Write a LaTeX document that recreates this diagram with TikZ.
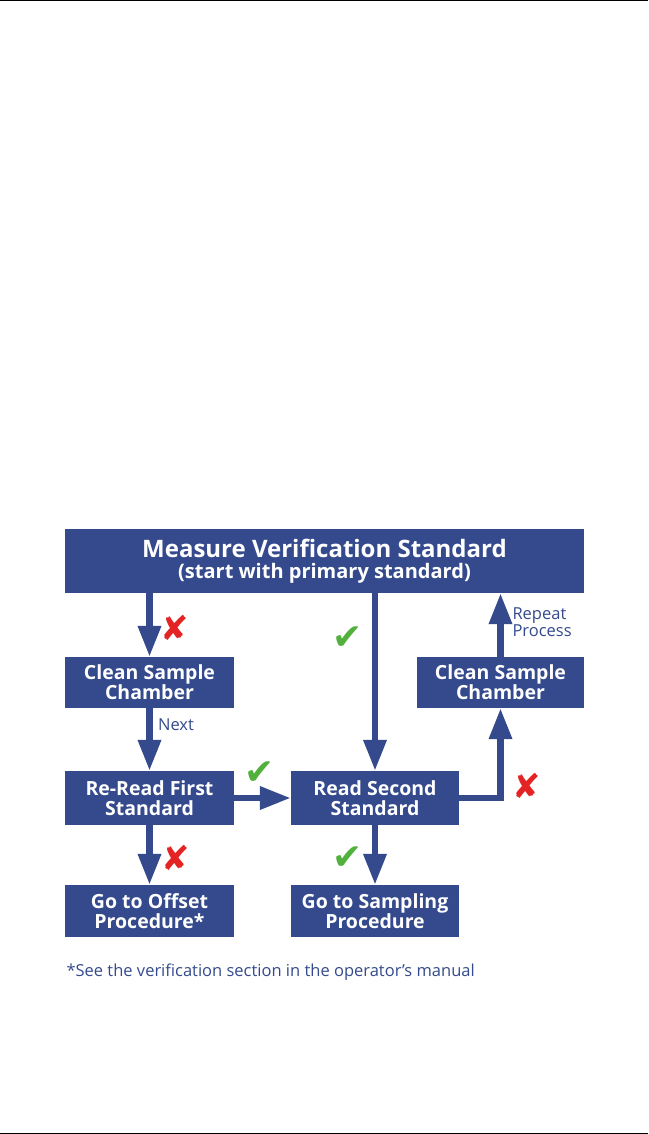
\documentclass[tikz,border=0pt]{standalone}
\usepackage{fontspec}
\setmainfont{Open Sans}
\newfontfamily\symfont{DejaVu Sans}
\usetikzlibrary{arrows.meta}

\definecolor{flowblue}{RGB}{52,74,140}
\definecolor{okgreen}{RGB}{82,176,60}
\definecolor{badred}{RGB}{228,36,36}

\begin{document}
\begin{tikzpicture}[
  x=1pt, y=-1pt,
  box/.style={rectangle, fill=flowblue, text=white, align=center, inner sep=0pt,
    font=\fontsize{19.5}{20}\selectfont\bfseries},
  flow/.style={draw=flowblue, line width=6.5pt,
    -{Triangle[width=22pt,length=31pt]}},
  note/.style={text=flowblue, align=left, font=\fontsize{16.5}{15}\selectfont},
  yes/.style={text=okgreen, font=\symfont\fontsize{36}{36}\selectfont},
  no/.style={text=badred, font=\symfont\fontsize{34}{34}\selectfont}
]
  \useasboundingbox (0,0) rectangle (648,1134);
  \draw[line width=1.5pt] (0,0.75) -- (648,0.75);
  \draw[line width=1.5pt] (0,1133.25) -- (648,1133.25);

  % boxes
  \node[box, minimum width=519pt, minimum height=64pt] (measure) at (324.5,561)
    {{\fontsize{24}{25}\selectfont Measure Verification Standard}\\[1pt]
     {\fontsize{20}{22}\selectfont (start with primary standard)}};
  \node[box, minimum width=169pt, minimum height=51pt] (cleanL) at (149.5,682.5) {Clean Sample\\Chamber};
  \node[box, minimum width=167pt, minimum height=51pt] (cleanR) at (500.5,682.5) {Clean Sample\\Chamber};
  \node[box, minimum width=169pt, minimum height=54pt] (reread) at (149.5,798) {Re-Read First\\Standard};
  \node[box, minimum width=168pt, minimum height=54pt] (second) at (375,798) {Read Second\\Standard};
  \node[box, minimum width=169pt, minimum height=52pt] (offset) at (149.5,911) {Go to Offset\\Procedure*};
  \node[box, minimum width=168pt, minimum height=52pt] (sampling) at (375,911) {Go to Sampling\\Procedure};

  % connectors
  \draw[flow] (cleanL.north |- measure.south) -- (cleanL.north);
  \draw[flow] (cleanL.south) -- (reread.north);
  \draw[flow] (reread.south) -- (offset.north);
  \draw[flow] (second.north |- measure.south) -- (second.north);
  \draw[flow] (second.south) -- (sampling.north);
  \draw[flow] (reread.east) -- (second.west);
  \draw[flow] (second.east) -| (cleanR.south);
  \draw[flow] (cleanR.north) -- (cleanR.north |- measure.south);

  % labels
  \node[no] (x1) at (175,628) {✘};
  \node[yes] (c1) at (348,638) {✔};
  \node[note] (next) at (176,725) {Next};
  \node[yes] (c2) at (260,773) {✔};
  \node[no] (x2) at (527,786) {✘};
  \node[no] (x3) at (176,858) {✘};
  \node[yes] (c3) at (348,858) {✔};
  \node[note, anchor=west] (repeat) at (509,622) {Repeat\\Process};
  \node[note, anchor=west] (footnote) at (63,972) {*See the verification section in the operator’s manual};
\end{tikzpicture}
\end{document}
